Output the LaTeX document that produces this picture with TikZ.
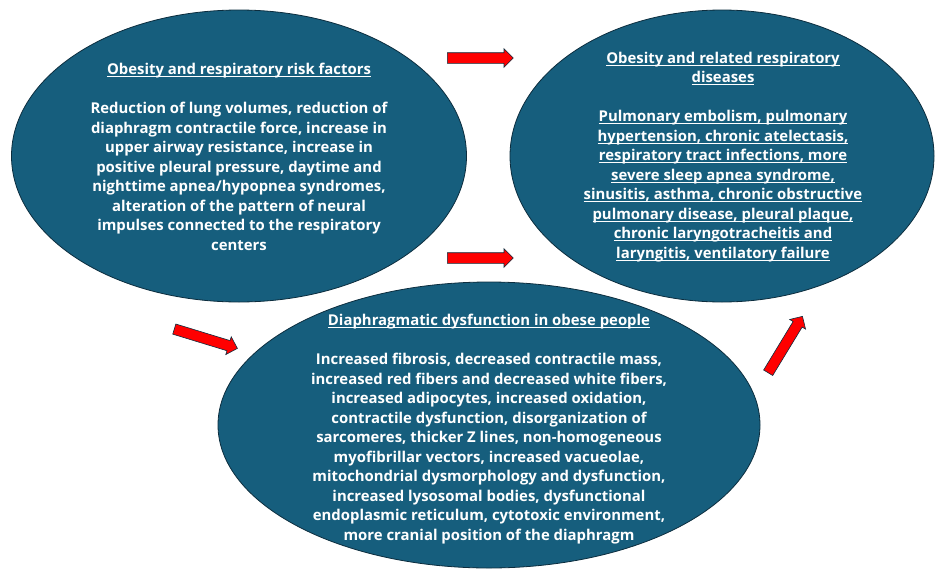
\documentclass[tikz,border=0pt]{standalone}
\usepackage{fontspec}
\setmainfont{Open Sans}
\usepackage{tikz}
\usetikzlibrary{shapes.geometric,shapes.arrows,positioning}
\definecolor{blobblue}{RGB}{22,94,125}
\definecolor{blobedge}{RGB}{12,45,62}
\definecolor{arrowred}{RGB}{255,0,0}
\newcommand\ulin[1]{\setbox0\hbox{#1}\rlap{\rule[-2.2pt]{\wd0}{0.6pt}}\box0}

\begin{document}
\begin{tikzpicture}
[   x=1pt,y=-1pt,
    blob/.style={draw=blobedge,line width=0.8pt,fill=blobblue,ellipse,inner sep=0pt},
    blobtext/.style={text=white,align=center,inner sep=0pt,font=\bfseries\fontsize{14.9}{19.5}\selectfont},
]
\tikzset{red arrow/.style={single arrow,draw=blobedge,line width=0.6pt,fill=arrowred,
    minimum height=66pt,inner xsep=0pt,inner ysep=5pt,single arrow head extend=4pt,
    single arrow tip angle=90,anchor=tail}}
\useasboundingbox (0,0) rectangle (936,570);

% the three ellipses
\node[blob,minimum width=455pt,minimum height=292pt] (risk) at (239,156) {};
\node[blob,minimum width=424pt,minimum height=292pt] (dis) at (722,156) {};
\node[blob,minimum width=542pt,minimum height=286pt] (diaph) at (489,425) {};

\node[blobtext] (risk-txt) at (239,157) {\ulin{Obesity and respiratory risk factors}\\[19.5pt]
Reduction of lung volumes, reduction of\\
diaphragm contractile force, increase in\\
upper airway resistance, increase in\\
positive pleural pressure, daytime and\\
nighttime apnea/hypopnea syndromes,\\
alteration of the pattern of neural\\
impulses connected to the respiratory\\
centers};

\node[blobtext] (dis-txt) at (723,157) {\ulin{Obesity and related respiratory}\\
\ulin{diseases}\\[19.5pt]
\ulin{Pulmonary embolism, pulmonary}\\
\ulin{hypertension, chronic atelectasis,}\\
\ulin{respiratory tract infections, more}\\
\ulin{severe sleep apnea syndrome,}\\
\ulin{sinusitis, asthma, chronic obstructive}\\
\ulin{pulmonary disease, pleural plaque,}\\
\ulin{chronic laryngotracheitis and}\\
\ulin{laryngitis, ventilatory failure}};

\node[blobtext] (diaph-txt) at (489,429) {\ulin{Diaphragmatic dysfunction in obese people}\\[19.5pt]
Increased fibrosis, decreased contractile mass,\\
increased red fibers and decreased white fibers,\\
increased adipocytes, increased oxidation,\\
contractile dysfunction, disorganization of\\
sarcomeres, thicker Z lines, non-homogeneous\\
myofibrillar vectors, increased vacueolae,\\
mitochondrial dysmorphology and dysfunction,\\
increased lysosomal bodies, dysfunctional\\
endoplasmic reticulum, cytotoxic environment,\\
more cranial position of the diaphragm};

% block arrows
\foreach \pos/\ang [count=\i] in {{(447,58)}/0,{(447,258)}/0,{(174,329)}/-17,{(768,373)}/58.7}
{
    \node[red arrow,rotate=\ang] (arr-\i) at \pos {};
}
\end{tikzpicture}
\end{document}
